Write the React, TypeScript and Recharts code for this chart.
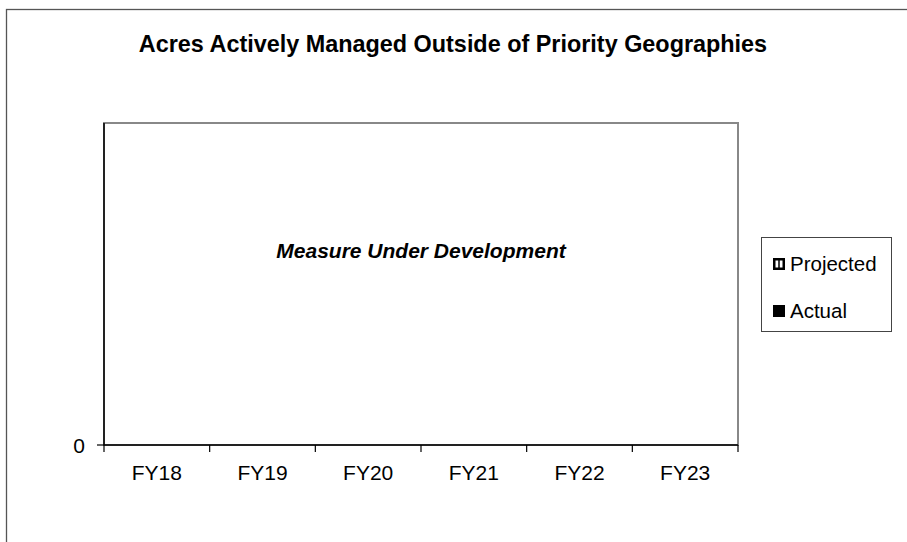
import React from 'react';
import { BarChart, Bar, XAxis, YAxis, Legend, Customized } from 'recharts';

// data
const categories = ['FY18', 'FY19', 'FY20', 'FY21', 'FY22', 'FY23'];
const projected: (number | null)[] = [null, null, null, null, null, null];
const actual: (number | null)[] = [null, null, null, null, null, null];
const yTicks = [0];
const seriesOrder = ['Projected', 'Actual'];

const TITLE = 'Acres Actively Managed Outside of Priority Geographies';
const NOTE = 'Measure Under Development';

const W = 907;
const H = 542;
const FONT = '"Liberation Sans", Arial, sans-serif';

// plot area
const PLOT_LEFT = 104;
const PLOT_TOP = 123;
const PLOT_RIGHT = 738;
const PLOT_BOTTOM = 445;
const X_AXIS_H = 40;
const Y_AXIS_W = 40;
const BAND = (PLOT_RIGHT - PLOT_LEFT) / categories.length;

const data = categories.map((fy, i) => ({
  fy,
  Projected: projected[i],
  Actual: actual[i],
}));

function CategoryTick(props: any) {
  const { x, payload, index } = props;
  const left = x - BAND / 2;
  return (
    <g>
      <line x1={left} y1={PLOT_BOTTOM} x2={left} y2={PLOT_BOTTOM + 7} stroke="#000" strokeWidth={1.2} />
      {index === categories.length - 1 && (
        <line x1={x + BAND / 2} y1={PLOT_BOTTOM} x2={x + BAND / 2} y2={PLOT_BOTTOM + 7} stroke="#000" strokeWidth={1.2} />
      )}
      <text x={x} y={PLOT_BOTTOM + 27} textAnchor="middle" dominantBaseline="central" fontSize={21} fontFamily={FONT} fill="#000">
        {payload.value}
      </text>
    </g>
  );
}

function Decorations() {
  return (
    <g>
      <rect x={6.5} y={9.5} width={W + 20} height={H + 20} fill="none" stroke="#555" strokeWidth={1.3} />
      <rect
        x={PLOT_LEFT}
        y={PLOT_TOP}
        width={PLOT_RIGHT - PLOT_LEFT}
        height={PLOT_BOTTOM - PLOT_TOP}
        fill="none"
        stroke="#888"
        strokeWidth={2}
      />
      <text x={453} y={44} textAnchor="middle" dominantBaseline="central" fontSize={23.4} fontWeight="bold" fontFamily={FONT} fill="#000">
        {TITLE}
      </text>
      <text
        x={(PLOT_LEFT + PLOT_RIGHT) / 2}
        y={250}
        textAnchor="middle"
        dominantBaseline="central"
        fontSize={21}
        fontWeight="bold"
        fontStyle="italic"
        fontFamily={FONT}
        fill="#000"
      >
        {NOTE}
      </text>
    </g>
  );
}

function YZeroTick(props: any) {
  const { y, payload } = props;
  return (
    <g>
      <line x1={PLOT_LEFT - 7} y1={y} x2={PLOT_LEFT} y2={y} stroke="#000" strokeWidth={1.2} />
      <text x={PLOT_LEFT - 19} y={y} textAnchor="end" dominantBaseline="central" fontSize={21} fontFamily={FONT} fill="#000">
        {payload.value}
      </text>
    </g>
  );
}

function LegendBox(props: any) {
  const items = [...(props.payload || [])].sort(
    (a: any, b: any) => seriesOrder.indexOf(a.value) - seriesOrder.indexOf(b.value)
  );
  return (
    <div
      style={{
        border: '1px solid #444',
        width: 131,
        height: 95,
        boxSizing: 'border-box',
        background: '#fff',
        fontFamily: FONT,
        fontSize: 20.5,
        color: '#000',
        position: 'relative',
      }}
    >
      {items.map((it: any, i: number) => (
        <div
          key={it.value}
          style={{ position: 'absolute', left: 11, top: 14 + i * 47, display: 'flex', alignItems: 'center', lineHeight: '24px' }}
        >
          <svg width={12} height={12} style={{ marginRight: 5 }}>
            {it.value === 'Projected' ? (
              <g>
                <rect x={1.25} y={1.25} width={9.5} height={9.5} fill="#fff" stroke="#000" strokeWidth={2.5} />
                <line x1={6} y1={2} x2={6} y2={10} stroke="#000" strokeWidth={1.5} />
              </g>
            ) : (
              <rect x={0} y={0} width={12} height={12} fill="#000" />
            )}
          </svg>
          <span>{it.value}</span>
        </div>
      ))}
    </div>
  );
}

export default function App() {
  return (
    <div style={{ position: 'absolute', left: 0, top: 0, width: W, height: H, background: '#fff' }}>
      <BarChart
        width={W}
        height={H}
        data={data}
        margin={{
          top: PLOT_TOP,
          left: PLOT_LEFT - Y_AXIS_W,
          right: W - PLOT_RIGHT,
          bottom: H - PLOT_BOTTOM - X_AXIS_H,
        }}
      >
        <Customized component={Decorations} />
        <XAxis
          dataKey="fy"
          height={X_AXIS_H}
          tickLine={false}
          tick={<CategoryTick />}
          axisLine={{ stroke: '#000', strokeWidth: 1.5 }}
          interval={0}
        />
        <YAxis
          type="number"
          width={Y_AXIS_W}
          domain={[0, 1]}
          allowDataOverflow
          ticks={yTicks}
          interval={0}
          tickLine={false}
          axisLine={{ stroke: '#000', strokeWidth: 1.5 }}
          tick={<YZeroTick />}
        />
        <Legend
          layout="horizontal"
          verticalAlign="middle"
          align="center"
          content={<LegendBox />}
          wrapperStyle={{ position: 'absolute', left: 761, top: 237, width: 131, height: 95 }}
        />
        <Bar dataKey="Projected" name="Projected" fill="#fff" stroke="#000" isAnimationActive={false} />
        <Bar dataKey="Actual" name="Actual" fill="#000" isAnimationActive={false} />
      </BarChart>
    </div>
  );
}
